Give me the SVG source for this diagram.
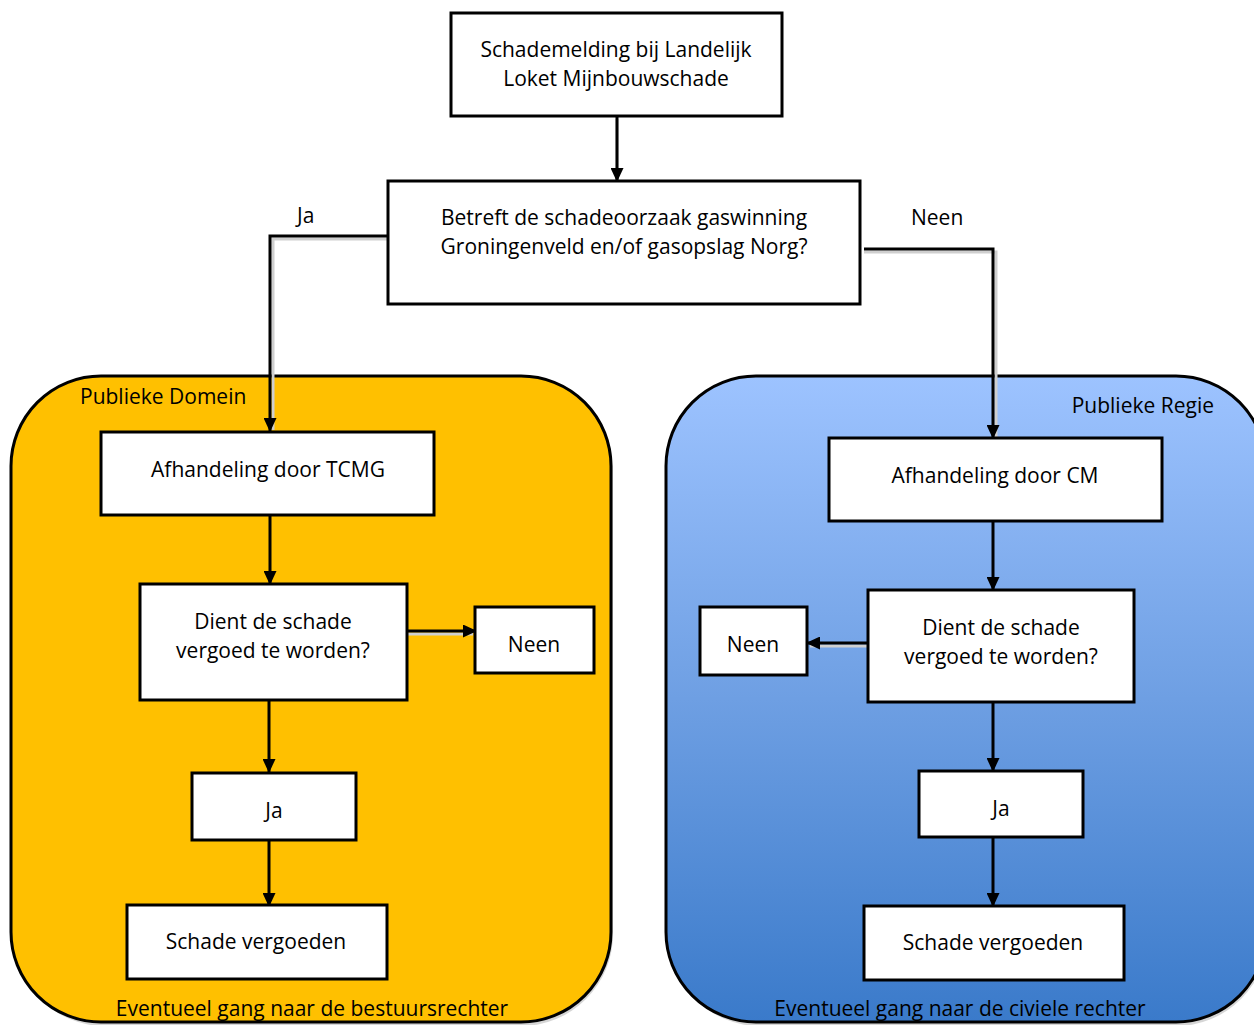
<svg xmlns="http://www.w3.org/2000/svg" width="1254" height="1025" viewBox="0 0 1254 1025">
<defs>
<linearGradient id="blue" x1="0" y1="0" x2="0" y2="1">
<stop offset="0" stop-color="#9DC3FF"/>
<stop offset="0.5" stop-color="#6E9FE3"/>
<stop offset="1" stop-color="#3A7ACA"/>
</linearGradient>
<marker id="arr" markerWidth="14" markerHeight="13" refX="13" refY="6.5" orient="auto" markerUnits="userSpaceOnUse" viewBox="0 0 14 13">
<path d="M0,0 L14,6.5 L0,13 z" fill="#000"/>
</marker>
</defs>
<style>
text{font-family:"Open Sans","Liberation Sans",sans-serif;font-size:21px;fill:#000}
.c{text-anchor:middle}
.box{fill:#fff;stroke:#000;stroke-width:3}
.ln{fill:none;stroke:#000;stroke-width:3;marker-end:url(#arr)}
.lns{fill:none;stroke:#cfcfcf;stroke-width:3}
</style>
<rect width="1254" height="1025" fill="#fff"/>

<g id="panel-left">
<rect x="13" y="378" width="600" height="648" rx="92" fill="#bbb" opacity="0.6"/>
<rect x="11" y="376" width="600" height="646" rx="90" fill="#FFC000" stroke="#000" stroke-width="3"/>
<text x="80" y="404">Publieke Domein</text>
<text class="c" x="312" y="1016">Eventueel gang naar de bestuursrechter</text>
</g>
<g id="panel-right">
<rect x="668" y="378" width="600" height="648" rx="92" fill="#bbb" opacity="0.6"/>
<rect x="666" y="376" width="600" height="646" rx="90" fill="url(#blue)" stroke="#000" stroke-width="3"/>
<text x="1214" y="413" text-anchor="end">Publieke Regie</text>
<text class="c" x="960" y="1016">Eventueel gang naar de civiele rechter</text>
</g>

<g id="connectors">
<path class="lns" d="M617,119 V181"/>
<path class="ln" d="M617,116 V181"/>
<path class="lns" d="M388,239 H273 V430"/>
<path class="ln" d="M388,236 H270 V431"/>
<text x="297" y="223">Ja</text>
<path class="lns" d="M864,252 H996 V437"/>
<path class="ln" d="M864,249 H993 V438"/>
<text x="911" y="225">Neen</text>
<path class="ln" d="M270,515 V584"/>
<path class="lns" d="M402,634 H473"/>
<path class="ln" d="M402,631 H476"/>
<path class="ln" d="M269,700 V772"/>
<path class="ln" d="M269,840 V906"/>
<path class="ln" d="M993,521 V590"/>
<path class="lns" d="M868,646 H810"/>
<path class="ln" d="M868,643 H807"/>
<path class="ln" d="M993,702 V771"/>
<path class="ln" d="M993,837 V906"/>
</g>

<g id="n-start">
<rect class="box" x="451" y="13" width="331" height="103"/>
<text class="c" x="616" y="57">Schademelding bij Landelijk</text>
<text class="c" x="616" y="86">Loket Mijnbouwschade</text>
</g>
<g id="n-decision">
<rect class="box" x="388" y="181" width="472" height="123"/>
<text class="c" x="624" y="225">Betreft de schadeoorzaak gaswinning</text>
<text class="c" x="624" y="254">Groningenveld en/of gasopslag Norg?</text>
</g>

<g id="n-tcmg">
<rect class="box" x="101" y="432" width="333" height="83"/>
<text class="c" x="268" y="477">Afhandeling door TCMG</text>
</g>
<g id="n-dient-left">
<rect class="box" x="140" y="584" width="267" height="116"/>
<text class="c" x="273" y="629">Dient de schade</text>
<text class="c" x="273" y="658">vergoed te worden?</text>
</g>
<g id="n-neen-left">
<rect class="box" x="475" y="607" width="119" height="66"/>
<text class="c" x="534" y="652">Neen</text>
</g>
<g id="n-ja-left">
<rect class="box" x="192" y="773" width="164" height="67"/>
<text class="c" x="274" y="818">Ja</text>
</g>
<g id="n-schade-left">
<rect class="box" x="127" y="905" width="260" height="74"/>
<text class="c" x="256" y="949">Schade vergoeden</text>
</g>

<g id="n-cm">
<rect class="box" x="829" y="438" width="333" height="83"/>
<text class="c" x="995" y="483">Afhandeling door CM</text>
</g>
<g id="n-dient-right">
<rect class="box" x="868" y="590" width="266" height="112"/>
<text class="c" x="1001" y="635">Dient de schade</text>
<text class="c" x="1001" y="664">vergoed te worden?</text>
</g>
<g id="n-neen-right">
<rect class="box" x="700" y="607" width="107" height="68"/>
<text class="c" x="753" y="652">Neen</text>
</g>
<g id="n-ja-right">
<rect class="box" x="919" y="771" width="164" height="66"/>
<text class="c" x="1001" y="816">Ja</text>
</g>
<g id="n-schade-right">
<rect class="box" x="864" y="906" width="260" height="74"/>
<text class="c" x="993" y="950">Schade vergoeden</text>
</g>
</svg>
